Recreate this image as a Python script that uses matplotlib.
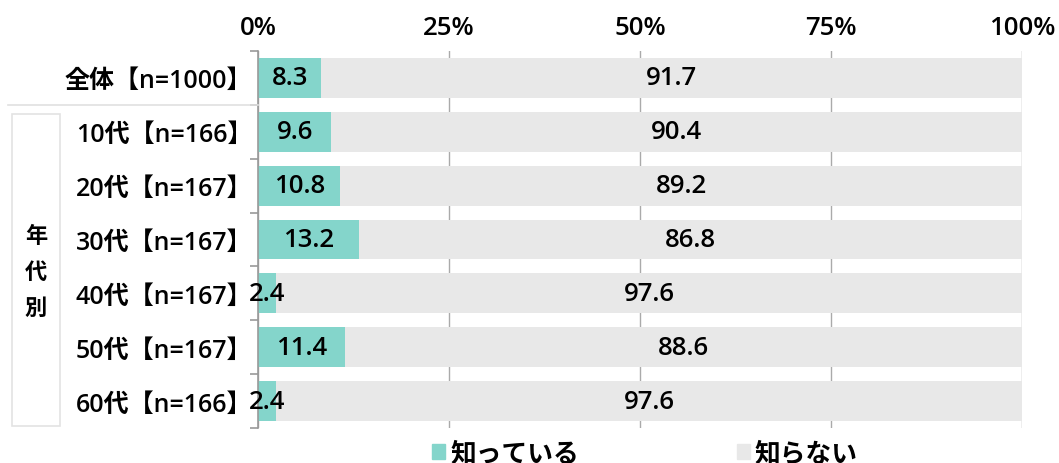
import matplotlib.pyplot as plt
import matplotlib.patches as mpatches
from matplotlib.ticker import FixedLocator

plt.rcParams['font.family'] = ['Open Sans', 'Noto Sans CJK JP', 'DejaVu Sans']
plt.rcParams['font.weight'] = 'semibold'

labels = ['全体【n=1000】', '10代【n=166】', '20代【n=167】', '30代【n=167】',
          '40代【n=167】', '50代【n=167】', '60代【n=166】']
know = [8.3, 9.6, 10.8, 13.2, 2.4, 11.4, 2.4]
dont_know = [91.7, 90.4, 89.2, 86.8, 97.6, 88.6, 97.6]
series_names = ['知っている', '知らない']
xticks = [0, 25, 50, 75, 100]

teal = '#84D5CB'
grey = '#E8E8E8'
fs = 18.5

fig = plt.figure(figsize=(10.59, 4.64), dpi=100)
ax = fig.add_axes([0.2436, 0.0754, 0.7215, 0.8125])

y = list(range(len(labels)))
ax.barh(y, know, height=0.74, color=teal, zorder=2)
ax.barh(y, dont_know, left=know, height=0.74, color=grey, zorder=2)

for i in y:
    ax.text(know[i] / 2, i, f'{know[i]:.1f}', ha='center', va='center', fontsize=fs, zorder=3)
    ax.text(know[i] + dont_know[i] / 2, i, f'{dont_know[i]:.1f}', ha='center', va='center',
            fontsize=fs, zorder=3)

ax.set_xlim(0, 100)
ax.set_ylim(6.5, -0.5)
ax.xaxis.tick_top()
ax.set_xticks(xticks)
ax.set_xticklabels([f'{t}%' for t in xticks], fontsize=fs)
ax.tick_params(axis='x', length=0, pad=8)
ax.grid(axis='x', color='#AAAAAA', linewidth=1, zorder=0)

ax.set_yticks(y)
ax.set_yticklabels(labels, fontsize=fs - 0.5)
ax.tick_params(axis='y', which='major', length=0, pad=4)
ax.yaxis.set_minor_locator(FixedLocator([i - 0.5 for i in range(len(labels) + 1)]))
ax.tick_params(axis='y', which='minor', length=6, color='#999999', width=1.2)

for s in ['top', 'right', 'bottom']:
    ax.spines[s].set_visible(False)
ax.spines['left'].set_color('#999999')
ax.spines['left'].set_linewidth(1.2)

# separator line and group box
fig.add_artist(plt.Line2D([8 / 1059, 258 / 1059], [1 - 106 / 464, 1 - 106 / 464],
                          color='#E0E0E0', linewidth=1.2))
fig.add_artist(mpatches.Rectangle((12 / 1059, 1 - 427 / 464), 48 / 1059, 312 / 464,
                                  fill=False, edgecolor='#E3E3E3', linewidth=1.2))
for k, ch in enumerate('年代別'):
    fig.text(36 / 1059, 1 - (237 + 36 * k) / 464, ch, ha='center', va='center', fontsize=16)

handles = [mpatches.Patch(color=teal), mpatches.Patch(color=grey)]
fig.legend(handles, series_names, loc='center', bbox_to_anchor=(0.609, 1 - 455 / 464),
           ncol=2, frameon=False, fontsize=fs, handlelength=0.5, handleheight=0.5,
           handletextpad=0.2, columnspacing=6.15, borderpad=0)

fig.savefig('out.png', dpi=100)
